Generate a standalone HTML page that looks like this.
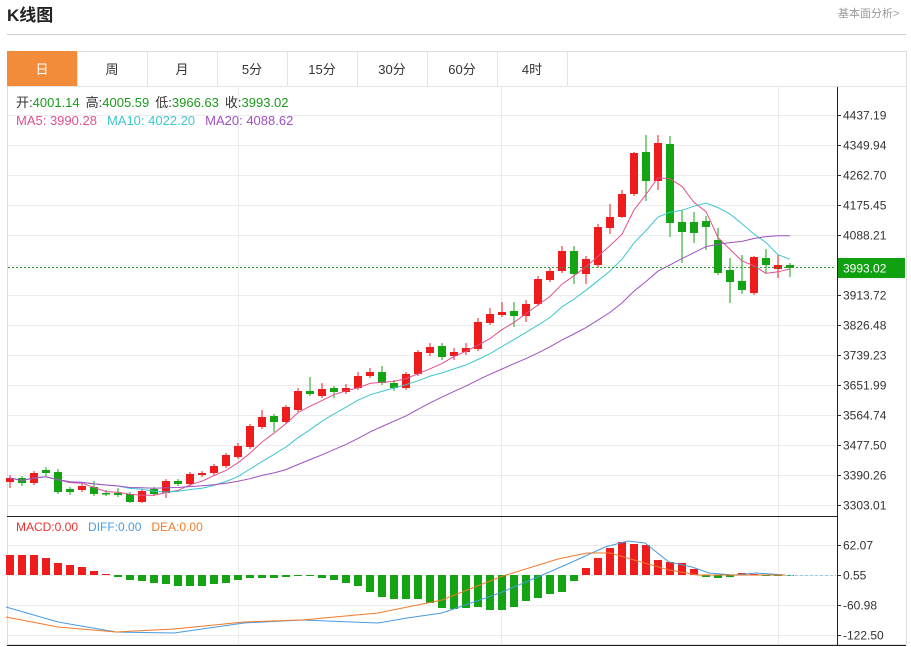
<!DOCTYPE html>
<html><head><meta charset="utf-8"><style>
body{margin:0;background:#fff;font-family:"Liberation Sans","Noto Sans CJK SC",sans-serif;}
#w{position:relative;width:911px;height:647px;overflow:hidden;}
</style></head><body><div id="w">
<svg id="s" width="911" height="647" xmlns="http://www.w3.org/2000/svg" style="position:absolute;left:0;top:0;font-family:'Liberation Sans','Noto Sans CJK SC',sans-serif"></svg>
</div>
<script>
const s=document.getElementById('s');let h='';
h+='<text x="7" y="21" font-size="17" font-weight="bold" fill="#222">K线图</text>';
h+='<text x="838" y="17" font-size="11" fill="#999">基本面分析&gt;</text>';
h+='<line x1="7" y1="34.5" x2="906" y2="34.5" stroke="#ccc"/>';
h+='<rect x="7.5" y="51.5" width="899" height="593" fill="none" stroke="#ddd"/>';
const tabs=['日','周','月','5分','15分','30分','60分','4时'];
tabs.forEach((t,i)=>{let x=7+i*70;
 if(i==0)h+='<rect x="7" y="51" width="70" height="35" fill="#f28b3a"/>';
 h+='<line x1="'+(x+70.5)+'" y1="51" x2="'+(x+70.5)+'" y2="86" stroke="#e3e3e3"/>';
 h+='<text x="'+(x+35)+'" y="74" font-size="13" text-anchor="middle" fill="'+(i==0?'#fff':'#333')+'">'+t+'</text>';});
h+='<line x1="7" y1="86.5" x2="906" y2="86.5" stroke="#e3e3e3"/>';
// grids
const pl=['4437.19','4349.94','4262.70','4175.45','4088.21','','3913.72','3826.48','3739.23','3651.99','3564.74','3477.50','3390.26','3303.01'];
for(let i=0;i<14;i++){let y=115+i*30;h+='<line x1="8" y1="'+(y+.5)+'" x2="836" y2="'+(y+.5)+'" stroke="#ececec"/>';
 if(pl[i]){h+='<line x1="837" y1="'+(y+.5)+'" x2="841" y2="'+(y+.5)+'" stroke="#333"/><text x="843" y="'+(y+4.5)+'" font-size="12" fill="#333">'+pl[i]+'</text>';}}
const ml=['62.07','0.55','-60.98','-122.50'];
for(let i=0;i<4;i++){let y=545+i*30;h+='<line x1="8" y1="'+(y+.5)+'" x2="836" y2="'+(y+.5)+'" stroke="#ececec"/><line x1="837" y1="'+(y+.5)+'" x2="841" y2="'+(y+.5)+'" stroke="#333"/><text x="843" y="'+(y+4.5)+'" font-size="12" fill="#333">'+ml[i]+'</text>';}
[238,501,778].forEach(x=>{h+='<line x1="'+(x+.5)+'" y1="87" x2="'+(x+.5)+'" y2="645" stroke="#ececec"/>';});
// candles [open,close,high,low] in px
const C=[[482,478,475,488],[478,483,476,486],[483,473,471,485],[470,473,467,476],[472,492,469,494],[489,492,487,495],[490,486,484,492],[487,494,481,496],[493,494,490,496],[493,495,488,497],[494,502,492,503],[502,491,489,503],[489,494,487,496],[493,481,479,498],[481,484,479,486],[484,474,472,486],[475,473,471,477],[473,466,464,475],[466,455,453,468],[457,446,443,459],[447,426,424,449],[427,417,410,429],[416,422,414,432],[422,407,405,424],[410,391,388,412],[391,394,377,396],[396,389,383,398],[388,392,386,398],[392,388,384,394],[388,376,372,390],[376,372,368,378],[372,383,366,385],[383,388,380,391],[388,374,372,390],[374,352,350,376],[353,347,343,356],[346,357,343,360],[356,352,348,360],[352,348,343,355],[349,322,318,351],[323,314,308,325],[315,312,302,317],[311,316,302,327],[316,304,300,322],[304,279,276,306],[280,271,268,282],[271,251,246,273],[251,274,246,284],[274,259,256,284],[265,227,224,268],[228,217,204,234],[217,194,190,218],[194,153,152,196],[152,181,135,201],[181,143,135,190],[144,223,136,237],[222,232,210,263],[222,233,212,243],[221,227,216,250],[240,273,228,275],[270,282,258,303],[281,290,255,294],[293,257,256,295],[258,265,249,273],[269,265,255,278],[265,268,263,277]];
const X=i=>10+i*12;
const cl=C.map(c=>c[1]);
function ma(n){let p=[];for(let i=0;i<cl.length;i++){let a=Math.max(0,i-n+1),sm=0;for(let j=a;j<=i;j++)sm+=cl[j];p.push(X(i)+','+(sm/(i-a+1)).toFixed(1));}return p.join(' ');}
C.forEach((c,i)=>{let x=X(i),up=c[1]<c[0],col=up?'#ee1c1c':'#13a313';let t=Math.min(c[0],c[1]),b=Math.max(c[0],c[1]);
 h+='<line x1="'+x+'" y1="'+c[2]+'" x2="'+x+'" y2="'+c[3]+'" stroke="'+col+'"/>';
 h+='<rect x="'+(x-4)+'" y="'+t+'" width="8" height="'+Math.max(1.5,b-t)+'" fill="'+col+'"/>';});
// MA20 warm-up: use offset guess
h+='<polyline points="'+ma(5)+'" fill="none" stroke="#e0508f" stroke-width="1"/>';
h+='<polyline points="'+ma(10)+'" fill="none" stroke="#3cc6d0" stroke-width="1"/>';
h+='<polyline points="'+ma(20)+'" fill="none" stroke="#a050c0" stroke-width="1"/>';
h+='<line x1="8" y1="267.5" x2="836" y2="267.5" stroke="#2a9a2a" stroke-dasharray="2,2"/>';
h+='<rect x="837" y="258" width="68" height="20" fill="#10a010"/><text x="843" y="272.5" font-size="12" fill="#fff">3993.02</text>';
// macd bars tops
const M=[555,555,555,558,563,565,567,571,574,577,580,581,583,584,586,586,586,584,583,580,578,578,578,577,576,576,578,580,583,586,592,597,599,599,599,603,608,609,608,607,610,610,607,601,598,594,592,581,568,558,548,542,544,545,560,562,563,569,577,578,577,573,574,575,575,575];
M.forEach((y,i)=>{let x=X(i);let up=y<575;h+='<rect x="'+(x-4)+'" y="'+(up?y:575)+'" width="8" height="'+Math.max(1,Math.abs(575-y))+'" fill="'+(up?'#ee1c1c':'#13a313')+'"/>';});
h+='<polyline points="6,607 58,622 116,632 174,633 244,623 302,620 378,623 407,618 442,613 500,593 547,573 570,563 605,547 628,541 645,543 669,562 692,567 709,573 733,575 756,573 785,575" fill="none" stroke="#4a9be0"/>';
h+='<polyline points="6,617 58,627 116,632 174,629 244,622 302,620 378,613 442,600 500,577 558,559 587,553 610,553 634,560 669,570 698,575 756,575 785,575" fill="none" stroke="#f07a2a"/>';
h+='<line x1="785" y1="575.5" x2="836" y2="575.5" stroke="#8fd0e8" stroke-dasharray="3,2"/>';
h+='<line x1="7" y1="516.5" x2="837" y2="516.5" stroke="#222"/><line x1="837.5" y1="87" x2="837.5" y2="645" stroke="#222"/><line x1="7" y1="645.5" x2="906" y2="645.5" stroke="#222"/>';
// legends
h+='<text x="16" y="107" font-size="13"><tspan fill="#333">开:</tspan><tspan fill="#1a9a1a">4001.14</tspan><tspan fill="#333" dx="6">高:</tspan><tspan fill="#1a9a1a">4005.59</tspan><tspan fill="#333" dx="6">低:</tspan><tspan fill="#1a9a1a">3966.63</tspan><tspan fill="#333" dx="6">收:</tspan><tspan fill="#1a9a1a">3993.02</tspan></text>';
h+='<text x="16" y="125" font-size="13"><tspan fill="#e0508f">MA5: 3990.28</tspan><tspan fill="#3cc6d0" dx="10">MA10: 4022.20</tspan><tspan fill="#a050c0" dx="10">MA20: 4088.62</tspan></text>';
h+='<text x="16" y="531" font-size="12"><tspan fill="#ee3030">MACD:0.00</tspan><tspan fill="#4a9be0" dx="10">DIFF:0.00</tspan><tspan fill="#f07a2a" dx="10">DEA:0.00</tspan></text>';
s.innerHTML=h;
</script></body></html>
